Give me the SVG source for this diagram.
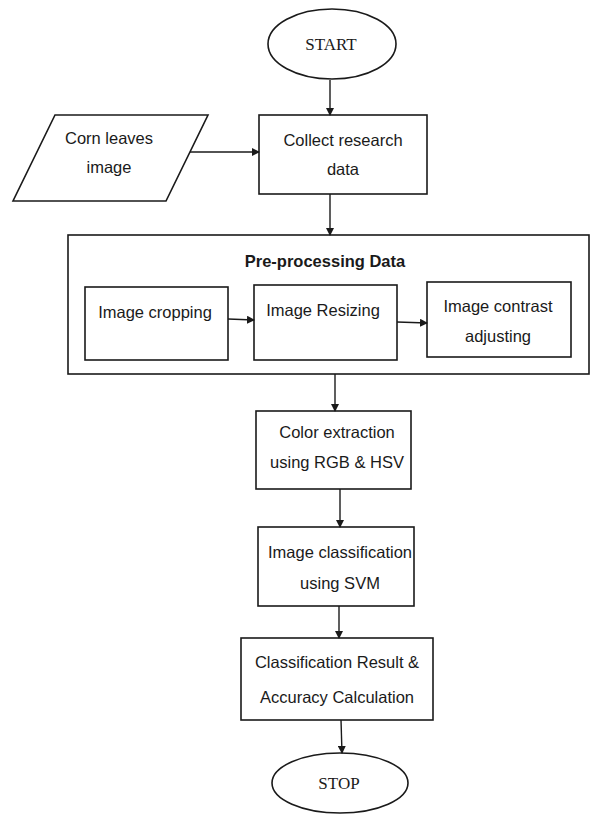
<svg xmlns="http://www.w3.org/2000/svg" width="594" height="817" viewBox="0 0 594 817">
<style>
.s{fill:#fff;stroke:#1a1a1a;stroke-width:1.6}
.t{font-family:"Liberation Sans",Arial,sans-serif;font-size:16.5px;fill:#1a1a1a;text-anchor:middle}
.r{font-family:"Liberation Serif","Times New Roman",serif;font-size:17px;fill:#1a1a1a;text-anchor:middle}
.b{font-weight:bold}
.c{fill:none;stroke:#1a1a1a;stroke-width:1.4}
</style>
<defs>
<marker id="a" markerWidth="8" markerHeight="8" refX="7" refY="4" orient="auto" markerUnits="userSpaceOnUse" viewBox="0 0 8 8">
<path d="M0,0 L8,4 L0,8 z" fill="#1a1a1a"/>
</marker>
</defs>
<rect width="594" height="817" fill="#fff"/>
<g id="start"><ellipse class="s" cx="332" cy="44" rx="64" ry="35"/><text class="r" x="331" y="50">START</text></g>
<g id="input"><polygon class="s" points="55,115 208,115 166,201 13,201"/><text class="t" x="109" y="144">Corn leaves</text><text class="t" x="109" y="173">image</text></g>
<g id="collect"><rect class="s" x="259" y="115" width="168" height="79"/><text class="t" x="343" y="146">Collect research</text><text class="t" x="343" y="175">data</text></g>
<g id="preprocess"><rect class="s" x="68" y="235" width="521" height="139"/><text class="t b" x="325" y="267">Pre-processing Data</text></g>
<g id="crop"><rect class="s" x="85" y="287" width="143" height="73"/><text class="t" x="155" y="318">Image cropping</text></g>
<g id="resize"><rect class="s" x="254" y="285" width="143" height="75"/><text class="t" x="323" y="316">Image Resizing</text></g>
<g id="contrast"><rect class="s" x="427" y="282" width="144" height="75"/><text class="t" x="498" y="312">Image contrast</text><text class="t" x="498" y="342">adjusting</text></g>
<g id="color"><rect class="s" x="256" y="411" width="155" height="78"/><text class="t" x="337" y="438">Color extraction</text><text class="t" x="337" y="468">using RGB &amp; HSV</text></g>
<g id="classify"><rect class="s" x="258" y="527" width="156" height="79"/><text class="t" x="340" y="558">Image classification</text><text class="t" x="340" y="589">using SVM</text></g>
<g id="result"><rect class="s" x="241" y="638" width="192" height="82"/><text class="t" x="337" y="668">Classification Result &amp;</text><text class="t" x="337" y="703">Accuracy Calculation</text></g>
<g id="stop"><ellipse class="s" cx="340" cy="783" rx="68" ry="30"/><text class="r" x="339" y="789">STOP</text></g>
<g id="connectors">
<line class="c" x1="330" y1="80" x2="330" y2="115" marker-end="url(#a)"/>
<line class="c" x1="190" y1="152" x2="259" y2="152" marker-end="url(#a)"/>
<line class="c" x1="330" y1="194" x2="330" y2="235" marker-end="url(#a)"/>
<line class="c" x1="228" y1="319" x2="254" y2="320" marker-end="url(#a)"/>
<line class="c" x1="397" y1="322" x2="427" y2="323" marker-end="url(#a)"/>
<line class="c" x1="335" y1="374" x2="335" y2="411" marker-end="url(#a)"/>
<line class="c" x1="340" y1="489" x2="340" y2="527" marker-end="url(#a)"/>
<line class="c" x1="339" y1="606" x2="339" y2="638" marker-end="url(#a)"/>
<line class="c" x1="341" y1="720" x2="342" y2="753" marker-end="url(#a)"/>
</g>
</svg>
